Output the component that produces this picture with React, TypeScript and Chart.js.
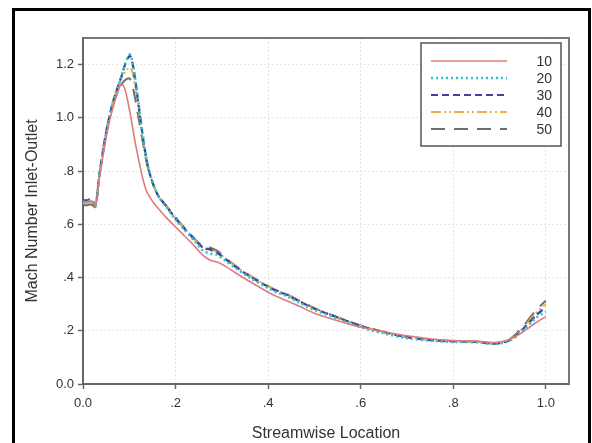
import React, { useEffect, useRef } from 'react';
import { Chart, registerables } from 'chart.js';
Chart.register(...registerables);

// Streamwise locations (shared by all series)
const xs = [0, 0.01, 0.015, 0.02, 0.027, 0.035, 0.045, 0.055, 0.065, 0.075, 0.083, 0.09, 0.097, 0.102, 0.107, 0.113, 0.12, 0.128, 0.137, 0.145, 0.155, 0.165, 0.18, 0.2, 0.22, 0.24, 0.26, 0.275, 0.29, 0.31, 0.33, 0.36, 0.4, 0.42, 0.44, 0.47, 0.5, 0.55, 0.6, 0.65, 0.7, 0.75, 0.8, 0.85, 0.89, 0.92, 0.95, 0.98, 1.0];

const seriesLabels = ['10', '20', '30', '40', '50'];

const mach10 = [0.685, 0.685, 0.688, 0.685, 0.672, 0.77, 0.875, 0.97, 1.04, 1.095, 1.128, 1.11, 1.06, 1.015, 0.965, 0.905, 0.845, 0.78, 0.725, 0.7, 0.675, 0.655, 0.625, 0.59, 0.555, 0.52, 0.482, 0.465, 0.458, 0.44, 0.417, 0.385, 0.345, 0.328, 0.313, 0.29, 0.266, 0.238, 0.214, 0.196, 0.181, 0.17, 0.163, 0.161, 0.156, 0.166, 0.195, 0.232, 0.253];
const mach20 = [0.685, 0.685, 0.69, 0.685, 0.67, 0.78, 0.895, 0.99, 1.06, 1.115, 1.155, 1.198, 1.228, 1.238, 1.21, 1.145, 1.055, 0.95, 0.848, 0.788, 0.735, 0.7, 0.665, 0.618, 0.578, 0.54, 0.5, 0.49, 0.485, 0.46, 0.435, 0.4, 0.36, 0.343, 0.33, 0.303, 0.278, 0.246, 0.213, 0.19, 0.172, 0.163, 0.158, 0.157, 0.151, 0.161, 0.2, 0.25, 0.272];
const mach30 = [0.69, 0.69, 0.695, 0.69, 0.672, 0.78, 0.895, 0.99, 1.06, 1.115, 1.155, 1.195, 1.225, 1.232, 1.205, 1.14, 1.05, 0.945, 0.845, 0.785, 0.735, 0.7, 0.668, 0.622, 0.582, 0.545, 0.512, 0.505, 0.493, 0.466, 0.44, 0.405, 0.365, 0.348, 0.335, 0.308, 0.283, 0.25, 0.218, 0.195, 0.176, 0.165, 0.16, 0.158, 0.152, 0.163, 0.205, 0.26, 0.288];
const mach40 = [0.68, 0.68, 0.685, 0.68, 0.668, 0.78, 0.9, 0.995, 1.065, 1.115, 1.15, 1.17, 1.185, 1.188, 1.17, 1.115, 1.035, 0.935, 0.84, 0.785, 0.735, 0.7, 0.668, 0.622, 0.582, 0.545, 0.51, 0.505, 0.495, 0.468, 0.442, 0.407, 0.367, 0.35, 0.337, 0.31, 0.284, 0.25, 0.219, 0.196, 0.177, 0.166, 0.161, 0.159, 0.153, 0.165, 0.21, 0.27, 0.3];
const mach50 = [0.672, 0.672, 0.675, 0.672, 0.665, 0.78, 0.89, 0.985, 1.055, 1.1, 1.125, 1.14, 1.148, 1.145, 1.12, 1.07, 1.0, 0.92, 0.835, 0.785, 0.735, 0.702, 0.67, 0.625, 0.585, 0.548, 0.515, 0.512, 0.5, 0.47, 0.444, 0.408, 0.368, 0.351, 0.338, 0.311, 0.285, 0.251, 0.22, 0.196, 0.177, 0.166, 0.161, 0.159, 0.153, 0.166, 0.215, 0.28, 0.313];

const xTicks = [0, 0.2, 0.4, 0.6, 0.8, 1.0];
const yTicks = [0, 0.2, 0.4, 0.6, 0.8, 1.0, 1.2];

const FONT = '"Liberation Sans", Arial, sans-serif';

const styles = [
  { color: '#e07a7a', width: 1.6, dash: [] as number[] },
  { color: '#2ec4c8', width: 2.6, dash: [2, 3] },
  { color: '#3f42a0', width: 2.2, dash: [7, 4] },
  { color: '#e8b04a', width: 2, dash: [10, 3, 2, 3, 2, 3] },
  { color: '#6e6e6e', width: 2, dash: [14, 9] },
];

function fmt(v: number): string {
  if (Math.abs(v) < 1e-9) return '0.0';
  const s = v.toFixed(1);
  return v >= 1 ? s : s.replace(/^0/, '');
}

const framePlugin = {
  id: 'frameLegend',
  afterDraw(chart: any) {
    const ctx = chart.ctx as CanvasRenderingContext2D;
    const { left, top, right, bottom } = chart.chartArea;
    ctx.save();
    ctx.setLineDash([]);
    ctx.strokeStyle = '#777';
    ctx.lineWidth = 2;
    ctx.beginPath();
    ctx.moveTo(left, top);
    ctx.lineTo(right, top);
    ctx.lineTo(right, bottom);
    ctx.stroke();

    // legend
    const bx = 421, by = 43, bw = 140, bh = 103;
    ctx.fillStyle = '#fff';
    ctx.fillRect(bx, by, bw, bh);
    ctx.strokeStyle = '#555';
    ctx.lineWidth = 1.5;
    ctx.strokeRect(bx, by, bw, bh);
    chart.data.datasets.forEach((ds: any, i: number) => {
      const y = by + 18 + i * 17;
      ctx.save();
      ctx.strokeStyle = ds.borderColor;
      ctx.lineWidth = ds.borderWidth;
      ctx.setLineDash(ds.borderDash || []);
      ctx.beginPath();
      ctx.moveTo(bx + 10, y);
      ctx.lineTo(bx + 86, y);
      ctx.stroke();
      ctx.restore();
      ctx.fillStyle = '#333';
      ctx.font = `14px ${FONT}`;
      ctx.textAlign = 'right';
      ctx.textBaseline = 'middle';
      ctx.fillText(ds.label, bx + 131, y + 1);
    });
    ctx.restore();
  },
};

export default function App() {
  const ref = useRef<HTMLCanvasElement>(null);
  useEffect(() => {
    const all = [mach10, mach20, mach30, mach40, mach50];
    const chart = new Chart(ref.current!, {
      type: 'line',
      data: {
        datasets: all.map((vals, i) => ({
          label: seriesLabels[i],
          data: xs.map((x, j) => ({ x, y: vals[j] })),
          borderColor: styles[i].color,
          borderWidth: styles[i].width,
          borderDash: styles[i].dash,
          pointRadius: 0,
          tension: 0.3,
          fill: false,
        })),
      },
      options: {
        animation: false,
        responsive: false,
        devicePixelRatio: 1,
        layout: { padding: { top: 38, right: 23, bottom: 0, left: 0 } },
        plugins: { legend: { display: false }, tooltip: { enabled: false } },
        scales: {
          x: {
            type: 'linear',
            min: 0,
            max: 1.05,
            afterBuildTicks: (ax: any) => { ax.ticks = xTicks.map(v => ({ value: v })); },
            afterFit: (s: any) => { s.height = 59; },
            ticks: { callback: (v: any) => fmt(Number(v)), font: { family: FONT, size: 13 }, color: '#333', padding: 7, maxRotation: 0, autoSkip: false },
            grid: { color: '#e6e6e6', lineWidth: 1, tickLength: 5, tickColor: '#666', tickWidth: 1.5, tickBorderDash: [] },
            border: { color: '#666', width: 2, dash: [2, 2] },
            title: { display: true, text: 'Streamwise Location', font: { family: FONT, size: 16 }, color: '#333', padding: { top: 0, bottom: 0 } },
          },
          y: {
            type: 'linear',
            min: 0,
            max: 1.3,
            afterBuildTicks: (ax: any) => { ax.ticks = yTicks.map(v => ({ value: v })); },
            afterFit: (s: any) => { s.width = 83; },
            ticks: { callback: (v: any) => fmt(Number(v)), font: { family: FONT, size: 13 }, color: '#333', padding: 4, autoSkip: false },
            grid: { color: '#e6e6e6', lineWidth: 1, tickLength: 5, tickColor: '#666', tickWidth: 1.5, tickBorderDash: [] },
            border: { color: '#666', width: 2, dash: [2, 2] },
            title: { display: true, text: 'Mach Number Inlet-Outlet', font: { family: FONT, size: 16 }, color: '#333', padding: { top: 23, bottom: 0 } },
          },
        },
      } as any,
      plugins: [framePlugin],
    });
    return () => chart.destroy();
  }, []);
  return (
    <div style={{ position: 'fixed', left: 0, top: 0, width: 592, height: 443, background: '#fff', overflow: 'hidden' }}>
      <canvas ref={ref} width={592} height={443} style={{ position: 'absolute', left: 0, top: 0, width: 592, height: 443 }} />
      <div style={{ position: 'absolute', left: 12, top: 8, width: 573, height: 460, border: '3px solid #000', pointerEvents: 'none' }} />
    </div>
  );
}
